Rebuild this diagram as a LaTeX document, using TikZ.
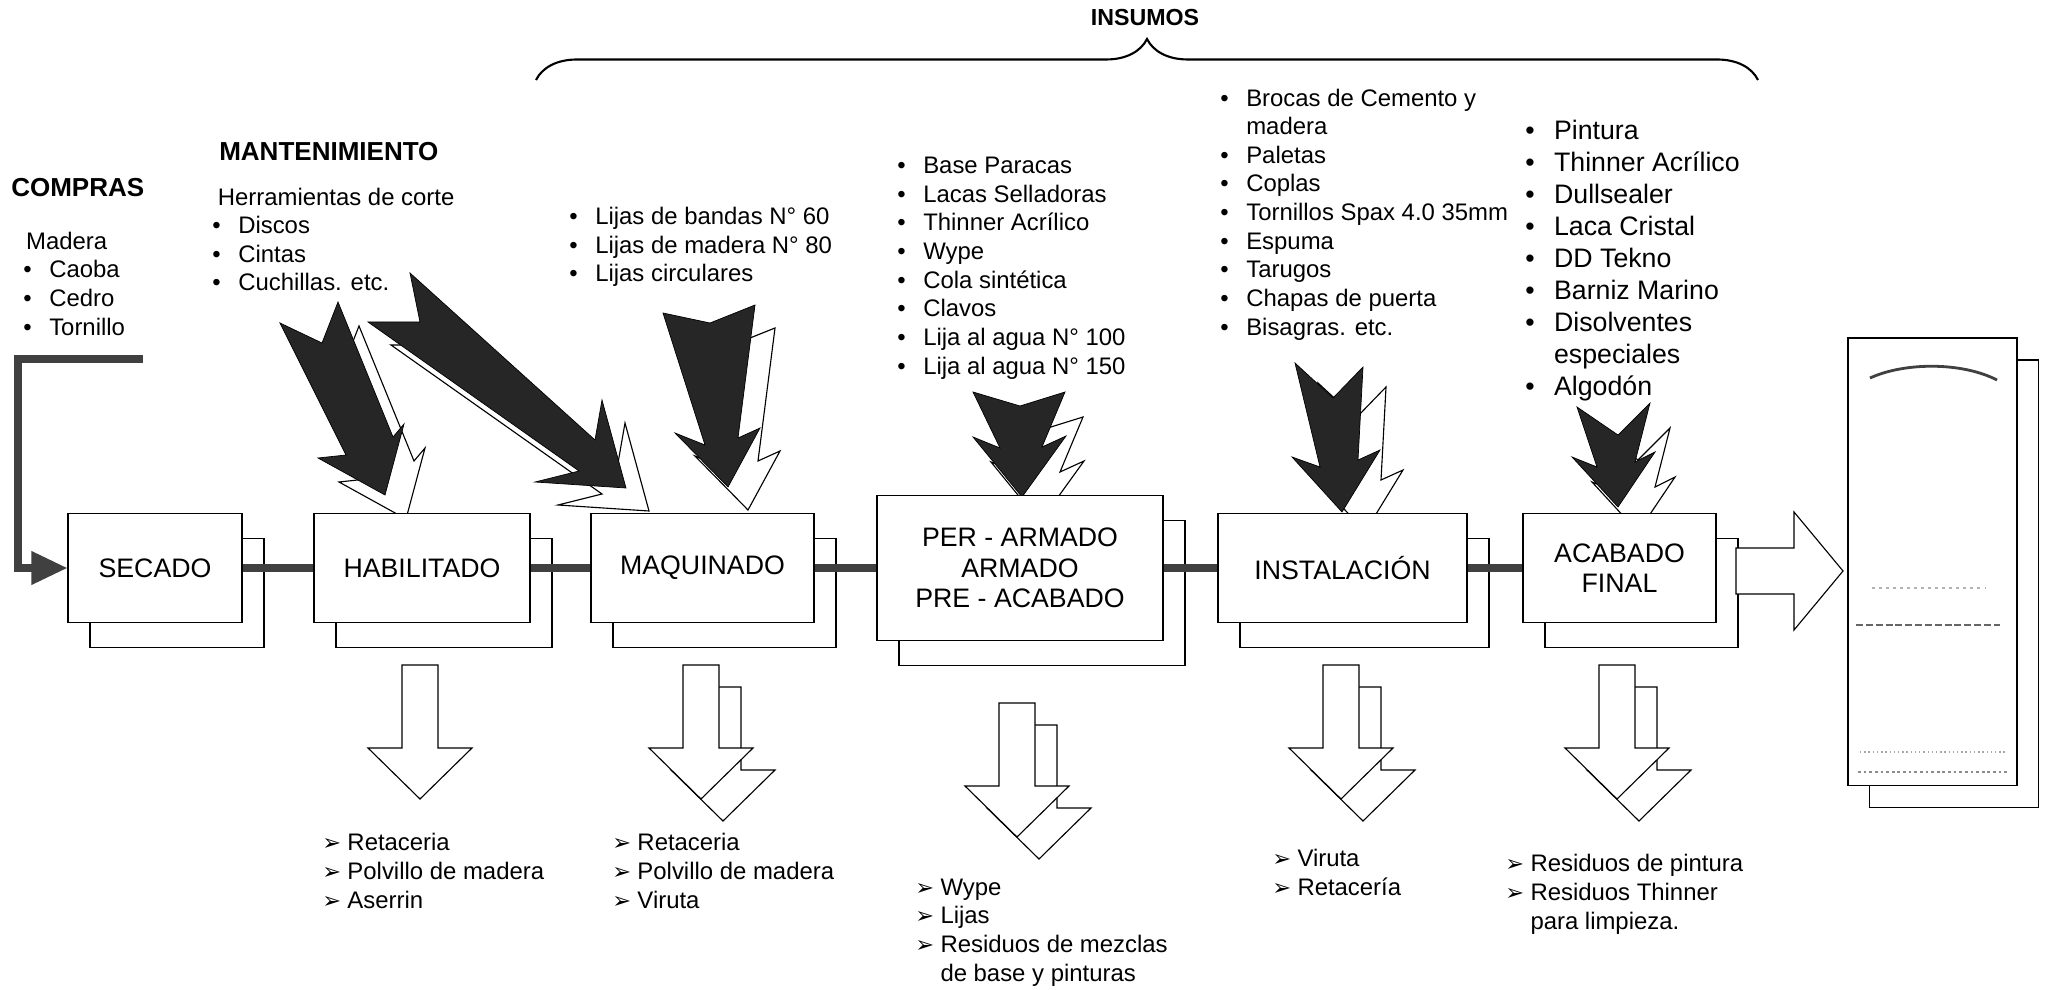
\documentclass[tikz,border=0pt]{standalone}
\usepackage{fontspec}
\setmainfont{Liberation Sans}
\newfontfamily\symfont{DejaVu Sans}
\usetikzlibrary{shadows,arrows.meta,decorations.pathreplacing}

\newcommand{\bul}{\makebox[0.65cm][l]{\textbullet}}
\newcommand{\bigbul}{\makebox[0.72cm][l]{\textbullet}}
\newcommand{\sal}{\makebox[0.63cm][l]{\symfont\fontsize{16}{16}\selectfont ➢}}
\newcommand{\insumo}[2]{\draw[jagw, shift={(#1)}] #2 -- cycle; \draw[jagd] #2 -- cycle;}

\tikzset{
  proc/.style={draw, fill=white, line width=0.8pt, inner sep=0pt, align=center,
    font=\fontsize{19}{21.5}\selectfont, minimum height=2.725cm,
    copy shadow={shadow xshift=0.55cm, shadow yshift=-0.625cm, fill=white, draw=black, line width=0.8pt}},
  lst/.style={anchor=base west, inner sep=0pt, align=left, font=\fontsize{17}{20.35}\selectfont},
  head/.style={anchor=base west, inner sep=0pt, font=\bfseries\fontsize{18.5}{22}\selectfont},
  conn/.style={draw=black!75, line width=5pt, line join=miter},
  jagd/.style={fill=black!85, draw=black, line width=0.5pt, line join=miter},
  jagw/.style={fill=white, draw=black, line width=0.8pt, line join=miter},
  hollow/.style={fill=white, draw=black, line width=0.8pt, line join=miter},
  outarr/.pic={\draw[hollow] (-18,0) -- (18,0) -- (18,83) -- (52,83) -- (0,134) -- (-52,83) -- (-18,83) -- cycle;}
}

\begin{document}
\begin{tikzpicture}[x=0.025cm, y=-0.025cm]
   \useasboundingbox (0,0) rectangle (2049,990);

   \draw[line width=1.5pt, decorate, decoration={brace, amplitude=1.025cm}] (536,80) -- (1758,80);
   \node[anchor=base, inner sep=0pt, font=\bfseries\fontsize{16.5}{18}\selectfont] (insumos) at (1145,26) {INSUMOS};

   \node[head] (compras) at (11,197) {COMPRAS};
   \node[head] (mant) at (219,161) {MANTENIMIENTO};
   \node[lst] (madera) at (23,335) {\hspace{2pt}Madera\\ \bul Caoba\\ \bul Cedro\\ \bul Tornillo};
   \node[lst] (herram) at (212,291) {\hspace{4pt}Herramientas de corte\\ \bul Discos\\ \bul Cintas\\ \bul Cuchillas. etc.};
   \node[lst] (lijas) at (569,282) {\bul Lijas de bandas N° 60\\ \bul Lijas de madera N° 80\\ \bul Lijas circulares};
   \node[lst] (base) at (897,374) {\bul Base Paracas\\ \bul Lacas Selladoras\\ \bul Thinner Acrílico\\ \bul Wype\\ \bul Cola sintética\\ \bul Clavos\\ \bul Lija al agua N° 100\\ \bul Lija al agua N° 150};
   \node[lst] (brocas) at (1220,335) {\bul Brocas de Cemento y\\ \makebox[0.65cm]{}madera\\ \bul Paletas\\ \bul Coplas\\ \bul Tornillos Spax 4.0 35mm\\ \bul Espuma\\ \bul Tarugos\\ \bul Chapas de puerta\\ \bul Bisagras. etc.};
   \node[lst, font=\fontsize{19}{22.8}\selectfont] (pintura) at (1525,396) {\bigbul Pintura\\ \bigbul Thinner Acrílico\\ \bigbul Dullsealer\\ \bigbul Laca Cristal\\ \bigbul DD Tekno\\ \bigbul Barniz Marino\\ \bigbul Disolventes\\ \makebox[0.72cm]{}especiales\\ \bigbul Algodón};

   \insumo{21,24}{(280,323) -- (322,343) -- (338,302) -- (393,437) -- (404,424) -- (385,495) -- (318,458) -- (346,455)}
   \insumo{23,23}{(410,273) -- (595,440) -- (602,400) -- (626,488) -- (535,482) -- (579,471) -- (368,322) -- (420,322)}
   \insumo{20,23}{(663,313) -- (710,323) -- (755,305) -- (738,438) -- (760,428) -- (728,487) -- (675,433) -- (705,445)}
   \insumo{18,25}{(973,392) -- (1020,406) -- (1065,392) -- (1042,447) -- (1066,436) -- (1022,497) -- (973,437) -- (1000,448)}
   \insumo{23,20}{(1295,363) -- (1333,398) -- (1363,367) -- (1358,460) -- (1380,450) -- (1342,512) -- (1292,457) -- (1320,467)}
   \insumo{20,25}{(1577,407) -- (1618,435) -- (1650,403) -- (1635,462) -- (1655,452) -- (1618,507) -- (1572,457) -- (1597,467)}

   \node[proc, minimum width=4.35cm] (secado) at (155,568) {SECADO};
   \node[proc, minimum width=5.4cm] (habilitado) at (422,568) {HABILITADO};
   \node[proc, minimum width=5.575cm] (maquinado) at (702.5,568) {MAQUINADO};
   \node[proc, minimum width=7.15cm, minimum height=3.625cm] (armado) at (1020,568) {PER - ARMADO\\ARMADO\\PRE - ACABADO};
   \node[proc, minimum width=6.225cm] (instalacion) at (1342.5,568) {INSTALACIÓN};
   \node[proc, minimum width=4.825cm] (acabado) at (1619.5,568) {ACABADO\\FINAL};

   \draw[conn] (secado) -- (habilitado);
   \draw[conn] (habilitado) -- (maquinado);
   \draw[conn] (maquinado) -- (armado);
   \draw[conn] (armado) -- (instalacion);
   \draw[conn] (instalacion) -- (acabado);

   \coordinate (entrada) at (143,359);
   \draw[conn, -{Triangle[length=0.9cm, width=0.8cm]}] (entrada) -- (18,359) -- (18,568) -- (secado.west);

   \pic at (420,665) {outarr};
   \pic at (723,687) {outarr};
   \pic at (701,665) {outarr};
   \pic at (1039,725) {outarr};
   \pic at (1017,703) {outarr};
   \pic at (1363,687) {outarr};
   \pic at (1341,665) {outarr};
   \pic at (1639,687) {outarr};
   \pic at (1617,665) {outarr};

   \node[lst] (sal1) at (322,908) {\sal Retaceria\\ \sal Polvillo de madera\\ \sal Aserrin};
   \node[lst] (sal2) at (612,908) {\sal Retaceria\\ \sal Polvillo de madera\\ \sal Viruta};
   \node[lst] (sal3) at (915,981) {\sal Wype\\ \sal Lijas\\ \sal Residuos de mezclas\\ \makebox[0.63cm]{}de base y pinturas};
   \node[lst] (sal4) at (1272,895) {\sal Viruta\\ \sal Retacería};
   \node[lst] (sal5) at (1505,929) {\sal Residuos de pintura\\ \sal Residuos Thinner\\ \makebox[0.63cm]{}para limpieza.};

   \node[draw, fill=white, line width=0.8pt, minimum width=4.225cm, minimum height=11.175cm,
     copy shadow={shadow xshift=0.53cm, shadow yshift=-0.55cm, fill=white, draw=black, line width=0.8pt}] (doc) at (1932.5,561.5) {};
   \draw[black!75, line width=2pt] (1870,378) .. controls (1905,362) and (1962,362) .. (1997,380);
   \draw[black!30, line width=0.8pt, dash pattern=on 2pt off 3pt] (1872,588) -- (1985,588);
   \draw[black!60, line width=1.4pt, dash pattern=on 5pt off 2pt] (1856,625) -- (2000,625);
   \draw[black!35, line width=0.8pt, dash pattern=on 1pt off 2pt] (1860,752) -- (2005,752);
   \draw[black!45, line width=1pt, dash pattern=on 2pt off 2pt] (1858,772) -- (2008,772);

   \draw[hollow] (1736,548) -- (1794,548) -- (1794,512) -- (1843,571) -- (1794,630) -- (1794,594) -- (1736,594) -- cycle;
\end{tikzpicture}
\end{document}
